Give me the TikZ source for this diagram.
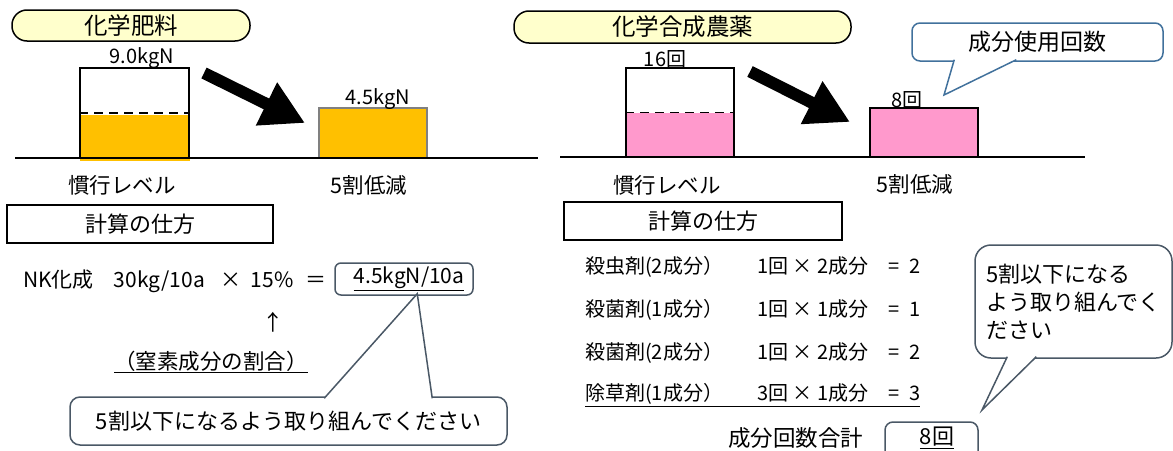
\documentclass[tikz,border=0pt]{standalone}
\usepackage{fontspec}
\setmainfont{Noto Sans CJK JP}
\usetikzlibrary{positioning}
\usetikzlibrary{arrows.meta}
\usetikzlibrary{calc}
\definecolor{titleyellow}{HTML}{FFFFCC}
\definecolor{fertorange}{HTML}{FFC000}
\definecolor{agropink}{HTML}{FF99CC}
\definecolor{callblue}{HTML}{41719C}
\definecolor{callgray}{HTML}{4A5866}
\tikzset{
    titlebox/.style = {rectangle, rounded corners=15pt, draw=black, line width=1.5pt, fill=titleyellow, inner sep=0pt, font=\fontsize{23.5}{27}\selectfont},
    framebox/.style = {rectangle, draw=black, line width=1.5pt, inner sep=0pt, font=\fontsize{22}{26}\selectfont},
    barbox/.style = {rectangle, draw=black, line width=1.5pt, inner sep=0pt},
    halfline/.style = {line width=1.5pt, dash pattern=on 9pt off 6pt},
    groundline/.style = {line width=1.5pt},
    barlabel/.style = {inner sep=0pt, font=\fontsize{20}{23}\selectfont},
    lbl/.style = {inner sep=0pt, font=\fontsize{21.5}{25}\selectfont},
    calcrow/.style = {inner sep=0pt, anchor=west, font=\fontsize{20}{24}\selectfont},
    callbox/.style = {rectangle, rounded corners=10pt, draw=callgray, line width=1.5pt, fill=white, inner sep=0pt, font=\fontsize{22}{26}\selectfont},
    pointer/.style = {draw=callgray, fill=white, line width=1.5pt, line join=miter},
    bigarrow/.style = {line width=12pt, -{Triangle[length=43pt,width=45pt]}}
}

\begin{document}
\begin{tikzpicture}[x=1pt, y=-1pt]
\useasboundingbox (0,0) rectangle (1173,450);

% fertilizer
\node[titlebox, minimum width=238pt, minimum height=31pt] (tFert) at (131,25.5) {化学肥料};
\fill[fertorange] (80,115) rectangle (190,161);
\node[barbox, minimum width=109pt, minimum height=90pt] (convF) at (134.5,113) {};
\draw[halfline] (convF.west) -- (convF.east);
\node[barlabel] (lConvF) at (142,58) {9.0kgN};
\node[barbox, draw=gray, fill=fertorange, minimum width=108pt, minimum height=50pt] (cutF) at (373,133) {};
\node[barlabel] (lCutF) at (378,99) {4.5kgN};
\draw[groundline] (15,158) -- (538,158);
\coordinate (aF1) at (204,73);
\coordinate (aF2) at (305,123);
\draw[bigarrow] (aF1) -- (aF2);
\node[lbl] (sConvF) at (122,185) {慣行レベル};
\node[lbl] (sCutF) at (369,185) {5割低減};
\node[framebox, minimum width=266pt, minimum height=38pt] (howF) at (140,224) {計算の仕方};

\node[calcrow, font=\fontsize{21}{25}\selectfont] (eqF) at (23,281) {NK化成\hspace{20pt}30kg/10a\hspace{16pt}×\hspace{9pt}15\%\hspace{12pt}＝};
\node[callbox, rounded corners=6pt, font=\fontsize{21}{25}\selectfont, minimum width=138pt, minimum height=32pt] (resF) at (404,279) {\hspace*{10pt}\underline{4.5kgN/10a}};
\node[lbl] (upF) at (273,322) {↑};
\node[lbl] (ratioF) at (211,362) {\underline{（窒素成分の割合）}};
\node[callbox, minimum width=437pt, minimum height=48pt] (adviceF) at (288.5,421) {5割以下になるよう取り組んでください};
\filldraw[pointer] ($(adviceF.north west)+(255,2)$) -- ($(resF.south west)+(83,-2)$) -- ($(adviceF.north west)+(363,2)$);

% pesticide
\node[titlebox, minimum width=337pt, minimum height=32pt] (tAgro) at (682.5,27) {化学合成農薬};
\fill[agropink] (626,112.5) rectangle (734,157);
\node[barbox, minimum width=108pt, minimum height=89pt] (convA) at (680,112.5) {};
\draw[halfline] (convA.west) -- (convA.east);
\node[barlabel] (lConvA) at (665,59) {16回};
\node[barbox, fill=agropink, minimum width=108pt, minimum height=49pt] (cutA) at (924,132.5) {};
\node[barlabel] (lCutA) at (907,100) {8回};
\draw[groundline] (560,157) -- (1085,157);
\coordinate (aA1) at (750,71.5);
\coordinate (aA2) at (850,122);
\draw[bigarrow] (aA1) -- (aA2);
\node[lbl] (sConvA) at (667,185) {慣行レベル};
\node[lbl] (sCutA) at (915,184) {5割低減};
\node[callbox, draw=callblue, rounded corners=8pt, font=\fontsize{23}{27}\selectfont, minimum width=251pt, minimum height=38pt] (usageA) at (1037.5,42) {成分使用回数};
\coordinate (tipU) at (944,95);
\filldraw[pointer, draw=callblue] ($(usageA.south west)+(43,-2)$) -- (tipU) -- ($(usageA.south west)+(105,-2)$);

\node[framebox, minimum width=278pt, minimum height=38pt] (howA) at (703,221) {計算の仕方};
\node[calcrow] (r1) at (585,267) {殺虫剤(2成分）\hspace{34pt}1回 × 2成分\hspace{20pt}=\hspace{10pt}2};
\node[calcrow] (r2) at (585,310) {殺菌剤(1成分）\hspace{34pt}1回 × 1成分\hspace{20pt}=\hspace{10pt}1};
\node[calcrow] (r3) at (585,353) {殺菌剤(2成分）\hspace{34pt}1回 × 2成分\hspace{20pt}=\hspace{10pt}2};
\node[calcrow] (r4) at (585,395) {\underline{除草剤(1成分）\hspace{34pt}3回 × 1成分\hspace{20pt}=\hspace{10pt}3}};
\node[lbl, anchor=west, font=\fontsize{22.5}{26}\selectfont] (sumA) at (728,438) {成分回数合計};
\node[callbox, rounded corners=8pt, minimum width=93pt, minimum height=48pt] (totA) at (931.5,446) {};
\node[lbl, font=\fontsize{22}{26}\selectfont] (totVal) at (937,438) {\underline{8回}};
\node[callbox, rounded corners=16pt, align=left, minimum width=197pt, minimum height=113pt, font=\fontsize{22}{28}\selectfont] (adviceA) at (1073.5,301.5) {5割以下になる\\よう取り組んでく\\ださい};
\coordinate (tipR) at (982,410);
\filldraw[pointer] ($(adviceA.south west)+(33,-2)$) -- (tipR) -- ($(adviceA.south west)+(62,-2)$);
\end{tikzpicture}
\end{document}
